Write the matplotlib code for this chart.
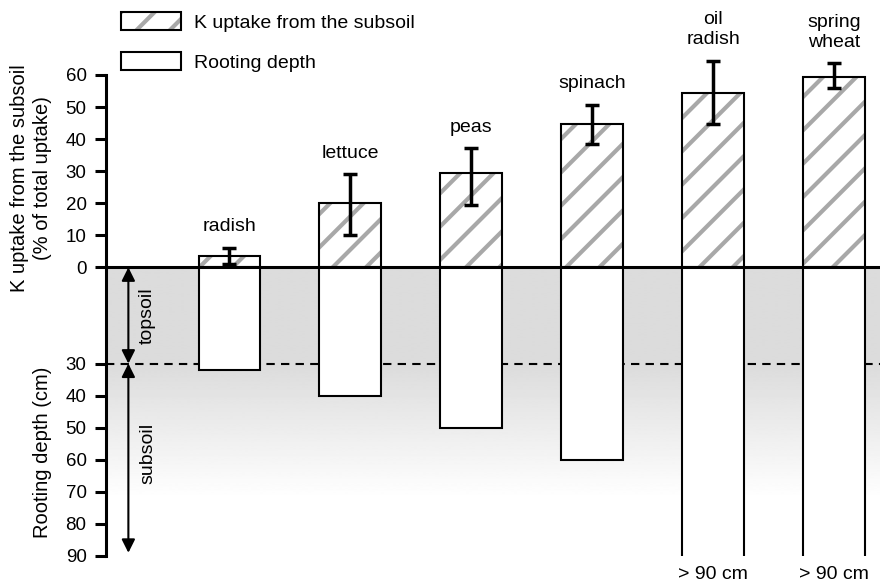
import numpy as np
import matplotlib
matplotlib.use('Agg')
import matplotlib.pyplot as plt
from matplotlib.patches import Patch

# Data
crops = ['radish', 'lettuce', 'peas', 'spinach', 'oil\nradish', 'spring\nwheat']
k_uptake = [3.5, 20.0, 29.3, 44.7, 54.3, 59.5]      # % of total uptake
k_err_low = [1.0, 10.2, 19.5, 38.6, 44.8, 56.0]
k_err_high = [6.2, 29.0, 37.2, 50.7, 64.5, 63.7]
rooting_depth = [32, 40, 50, 60, 90, 90]            # cm
depth_notes = ['', '', '', '', '> 90 cm', '> 90 cm']
open_bottom = [False, False, False, False, True, True]

upper_ticks = [0, 10, 20, 30, 40, 50, 60]
lower_ticks = [30, 40, 50, 60, 70, 80, 90]

plt.rcParams['font.family'] = ['Liberation Sans', 'DejaVu Sans']
plt.rcParams['hatch.linewidth'] = 3.0
fs = 14
hatch_gray = '#a8a8a8'

fig = plt.figure(figsize=(8.8, 5.85), dpi=100)
ax = fig.add_axes([106 / 880, 29 / 585, 1 - 106 / 880, (556 - 75) / 585])

x = np.arange(len(crops))
width = 0.51
xlim = (-1.02, 5.38)
ax.set_xlim(xlim)
ax.set_ylim(-90, 60)

# Soil background: grey topsoil fading to white in the subsoil
depth_grid = np.linspace(0, 90, 300)
shade = np.interp(depth_grid, [0, 30, 72, 90], [0.86, 0.86, 1.0, 1.0])
ax.imshow(shade.reshape(-1, 1), cmap='gray', vmin=0, vmax=1, aspect='auto',
          extent=[xlim[0], xlim[1], -90, 0], zorder=0, interpolation='bilinear')

# Topsoil / subsoil border
ax.axhline(-30, color='black', lw=1.5, ls=(0, (4, 3)), zorder=1)

# Rooting depth bars (downwards)
depth_neg = [-d for d in rooting_depth]
for xi, d, is_open in zip(x, depth_neg, open_bottom):
    if is_open:
        ax.bar(xi, d, width, color='white', edgecolor='none', zorder=2)
        ax.vlines([xi - width / 2, xi + width / 2], d, 0, color='black', lw=1.5, zorder=2)
    else:
        ax.bar(xi, d, width, color='white', edgecolor='black', lw=1.5, zorder=2)

# K uptake bars (upwards), hatched grey with black outline
ax.bar(x, k_uptake, width, color='white', edgecolor=hatch_gray, hatch='/', lw=0, zorder=2)
ax.bar(x, k_uptake, width, fill=False, edgecolor='black', lw=1.5, zorder=3)

yerr = [np.array(k_uptake) - np.array(k_err_low), np.array(k_err_high) - np.array(k_uptake)]
eb = ax.errorbar(x, k_uptake, yerr=yerr, fmt='none', ecolor='black', elinewidth=2.5,
                 capsize=5, capthick=2.5, zorder=4)
for artist in eb.lines[1] + eb.lines[2]:
    artist.set_clip_on(False)

ax.axhline(0, color='black', lw=2.2, zorder=4)

# Crop names above the error bars
for xi, top, name in zip(x, k_err_high, crops):
    ax.annotate(name, (xi, top), xytext=(0, 9), textcoords='offset points',
                ha='center', va='bottom', fontsize=fs, linespacing=1.2,
                annotation_clip=False)

# Notes below the deep-rooting bars
for xi, note in zip(x, depth_notes):
    if note:
        ax.annotate(note, (xi, -90), xytext=(0, -7), textcoords='offset points',
                    ha='center', va='top', fontsize=fs, annotation_clip=False)

# Topsoil / subsoil arrows
arrow_x = -0.835
arrow_kw = dict(arrowstyle='<|-|>', color='black', lw=1.5, mutation_scale=20,
                shrinkA=0, shrinkB=0)
ax.annotate('', xy=(arrow_x, 0), xytext=(arrow_x, -30), arrowprops=arrow_kw, zorder=5)
ax.annotate('', xy=(arrow_x, -30), xytext=(arrow_x, -89), arrowprops=arrow_kw, zorder=5)
ax.text(arrow_x + 0.16, -15, 'topsoil', rotation=90, ha='center', va='center', fontsize=fs)
ax.text(arrow_x + 0.16, -58, 'subsoil', rotation=90, ha='center', va='center', fontsize=fs)

# Axis styling
ax.set_xticks([])
ax.set_yticks(upper_ticks + [-t for t in lower_ticks])
ax.set_yticklabels([str(t) for t in upper_ticks] + [str(t) for t in lower_ticks])
ax.tick_params(axis='y', direction='out', length=8, width=2.2, labelsize=13.5, pad=6)
for side in ['top', 'right', 'bottom']:
    ax.spines[side].set_visible(False)
ax.spines['left'].set_linewidth(2.2)
ax.spines['left'].set_zorder(5)

fig.text(31 / 880, 1 - 178 / 585, 'K uptake from the subsoil\n(% of total uptake)',
         rotation=90, ha='center', va='center', fontsize=14.5, linespacing=1.2)
fig.text(43 / 880, 1 - 452 / 585, 'Rooting depth (cm)',
         rotation=90, ha='center', va='center', fontsize=14.5)

# Legend
handles = [
    (Patch(facecolor='white', edgecolor=hatch_gray, hatch='/', lw=0),
     Patch(facecolor='none', edgecolor='black', lw=1.5)),
    Patch(facecolor='white', edgecolor='black', lw=1.5),
]
fig.legend(handles, ['K uptake from the subsoil', 'Rooting depth'],
           loc='upper left', bbox_to_anchor=(121 / 880, 1 - 12 / 585),
           frameon=False, fontsize=fs, handlelength=3.1, handleheight=1.05,
           handletextpad=0.65, labelspacing=1.05, borderpad=0, borderaxespad=0)

fig.savefig('out.png', dpi=100)
